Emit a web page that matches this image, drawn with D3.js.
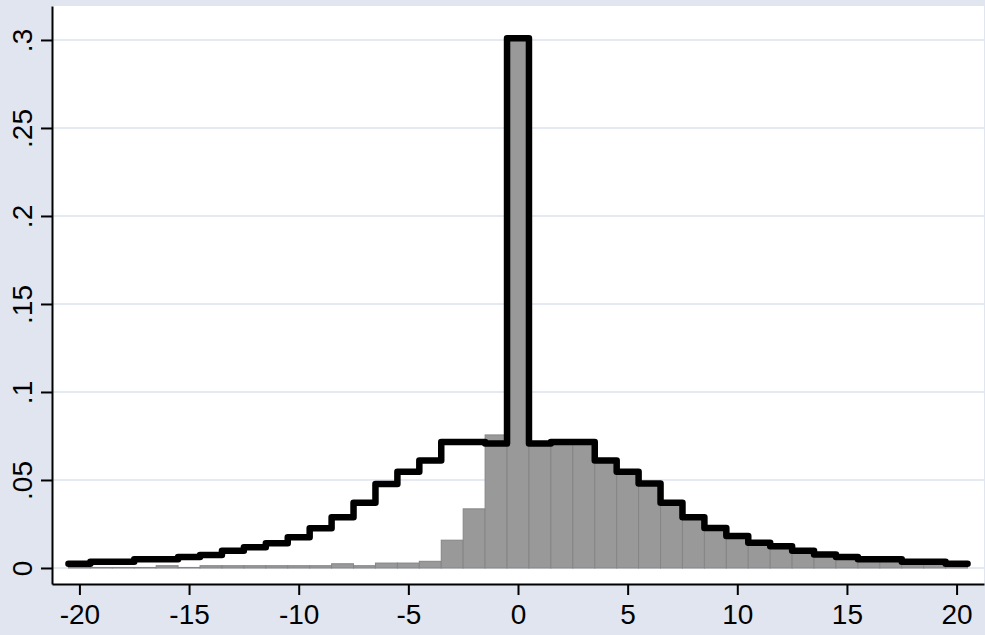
<!DOCTYPE html>
<html>
<head>
<meta charset="utf-8">
<script src="https://cdn.jsdelivr.net/npm/d3@7"></script>
<style>
  body { margin: 0; background: #e1e5f0; }
  svg { display: block; }
</style>
</head>
<body>
<svg width="985" height="635"></svg>
<script>
// bins are 1 unit wide, centred on the integers -20..20
var bins = d3.range(-20, 21);

// grey histogram (bar heights)
var barValues = [
  0.0003, 0.0003, 0.0003, 0.0003, 0.0013, 0.0003, 0.0013, 0.0013, 0.0013, 0.0013,
  0.0013, 0.0013, 0.0024, 0.0013, 0.0028, 0.0028, 0.0038, 0.0158, 0.0336, 0.0756,
  0.300,
  0.0705, 0.0715, 0.0715, 0.0605, 0.0545, 0.0475, 0.0370, 0.0285, 0.0225, 0.0180,
  0.0142, 0.0120, 0.0096, 0.0074, 0.0062, 0.0048, 0.0048, 0.0035, 0.0035, 0.0023
];

// black step outline
var lineValues = [
  0.0024, 0.0036, 0.0036, 0.0049, 0.0049, 0.0063, 0.0074, 0.0098, 0.0118, 0.0140,
  0.0175, 0.0226, 0.0288, 0.0370, 0.0477, 0.0547, 0.0610, 0.0716, 0.0716, 0.0707,
  0.301,
  0.0707, 0.0716, 0.0716, 0.0610, 0.0547, 0.0480, 0.0371, 0.0288, 0.0227, 0.0182,
  0.0144, 0.0123, 0.0098, 0.0076, 0.0063, 0.0049, 0.0049, 0.0036, 0.0036, 0.0024
];

var xTicks = [-20, -15, -10, -5, 0, 5, 10, 15, 20];
var yTicks = [0, 0.05, 0.1, 0.15, 0.2, 0.25, 0.3];
var yTickLabels = ["0", ".05", ".1", ".15", ".2", ".25", ".3"];

var plotLeft = 52, plotRight = 984, plotTop = 6, plotBottom = 584;

var svg = d3.select("svg");

var x = d3.scaleLinear().domain([-21.25, 21.25]).range([plotLeft, plotRight]);
var y = d3.scaleLinear().domain([-0.0091, 0.3193]).range([plotBottom, plotTop]);

// plot region
svg.append("rect")
    .attr("x", plotLeft).attr("y", plotTop)
    .attr("width", plotRight - plotLeft).attr("height", plotBottom - plotTop)
    .attr("fill", "white");

// grid lines
svg.selectAll("line.grid")
    .data(yTicks)
    .enter()
    .append("line")
    .attr("class", "grid")
    .attr("x1", plotLeft).attr("x2", plotRight)
    .attr("y1", d => y(d)).attr("y2", d => y(d))
    .attr("stroke", "#dde2ee")
    .attr("stroke-width", 1.5);

// histogram bars
svg.selectAll("rect.bar")
    .data(bins)
    .enter()
    .append("rect")
    .attr("class", "bar")
    .attr("x", d => x(d - 0.5))
    .attr("width", d => x(d + 0.5) - x(d - 0.5))
    .attr("y", (d, i) => y(barValues[i]))
    .attr("height", (d, i) => y(0) - y(barValues[i]))
    .attr("fill", "#999999")
    .attr("stroke", "#858585")
    .attr("stroke-width", 1);

// step outline
var pts = bins.map((d, i) => [d - 0.5, lineValues[i]]);
pts.push([20.5, lineValues[lineValues.length - 1]]);

var line = d3.line()
    .x(d => x(d[0]))
    .y(d => y(d[1]))
    .curve(d3.curveStepAfter);

svg.append("path")
    .datum(pts)
    .attr("d", line)
    .attr("fill", "none")
    .attr("stroke", "black")
    .attr("stroke-width", 6.5)
    .attr("stroke-linejoin", "round")
    .attr("stroke-linecap", "round");

// axes
var yAxis = d3.axisLeft(y)
    .tickValues(yTicks)
    .tickSize(11)
    .tickSizeOuter(0)
    .tickFormat((d, i) => yTickLabels[i]);

var xAxis = d3.axisBottom(x)
    .tickValues(xTicks)
    .tickSize(11)
    .tickSizeOuter(0)
    .tickFormat(d => String(d));

var gy = svg.append("g")
    .attr("transform", "translate(" + plotLeft + ",0)")
    .call(yAxis);

var gx = svg.append("g")
    .attr("transform", "translate(0," + plotBottom + ")")
    .call(xAxis);

[gx, gy].forEach(function(g) {
    g.selectAll("path, line").attr("stroke", "black").attr("stroke-width", 2);
    g.selectAll("text")
        .attr("fill", "black")
        .style("font-family", "'Liberation Sans', Arial, sans-serif")
        .style("font-size", "28px");
});

gy.selectAll("text")
    .attr("text-anchor", "middle")
    .attr("transform", "rotate(-90)")
    .attr("x", 0)
    .attr("y", -20)
    .attr("dy", 0);

gx.selectAll("text")
    .attr("y", 40)
    .attr("dy", 0);
</script>
</body>
</html>
